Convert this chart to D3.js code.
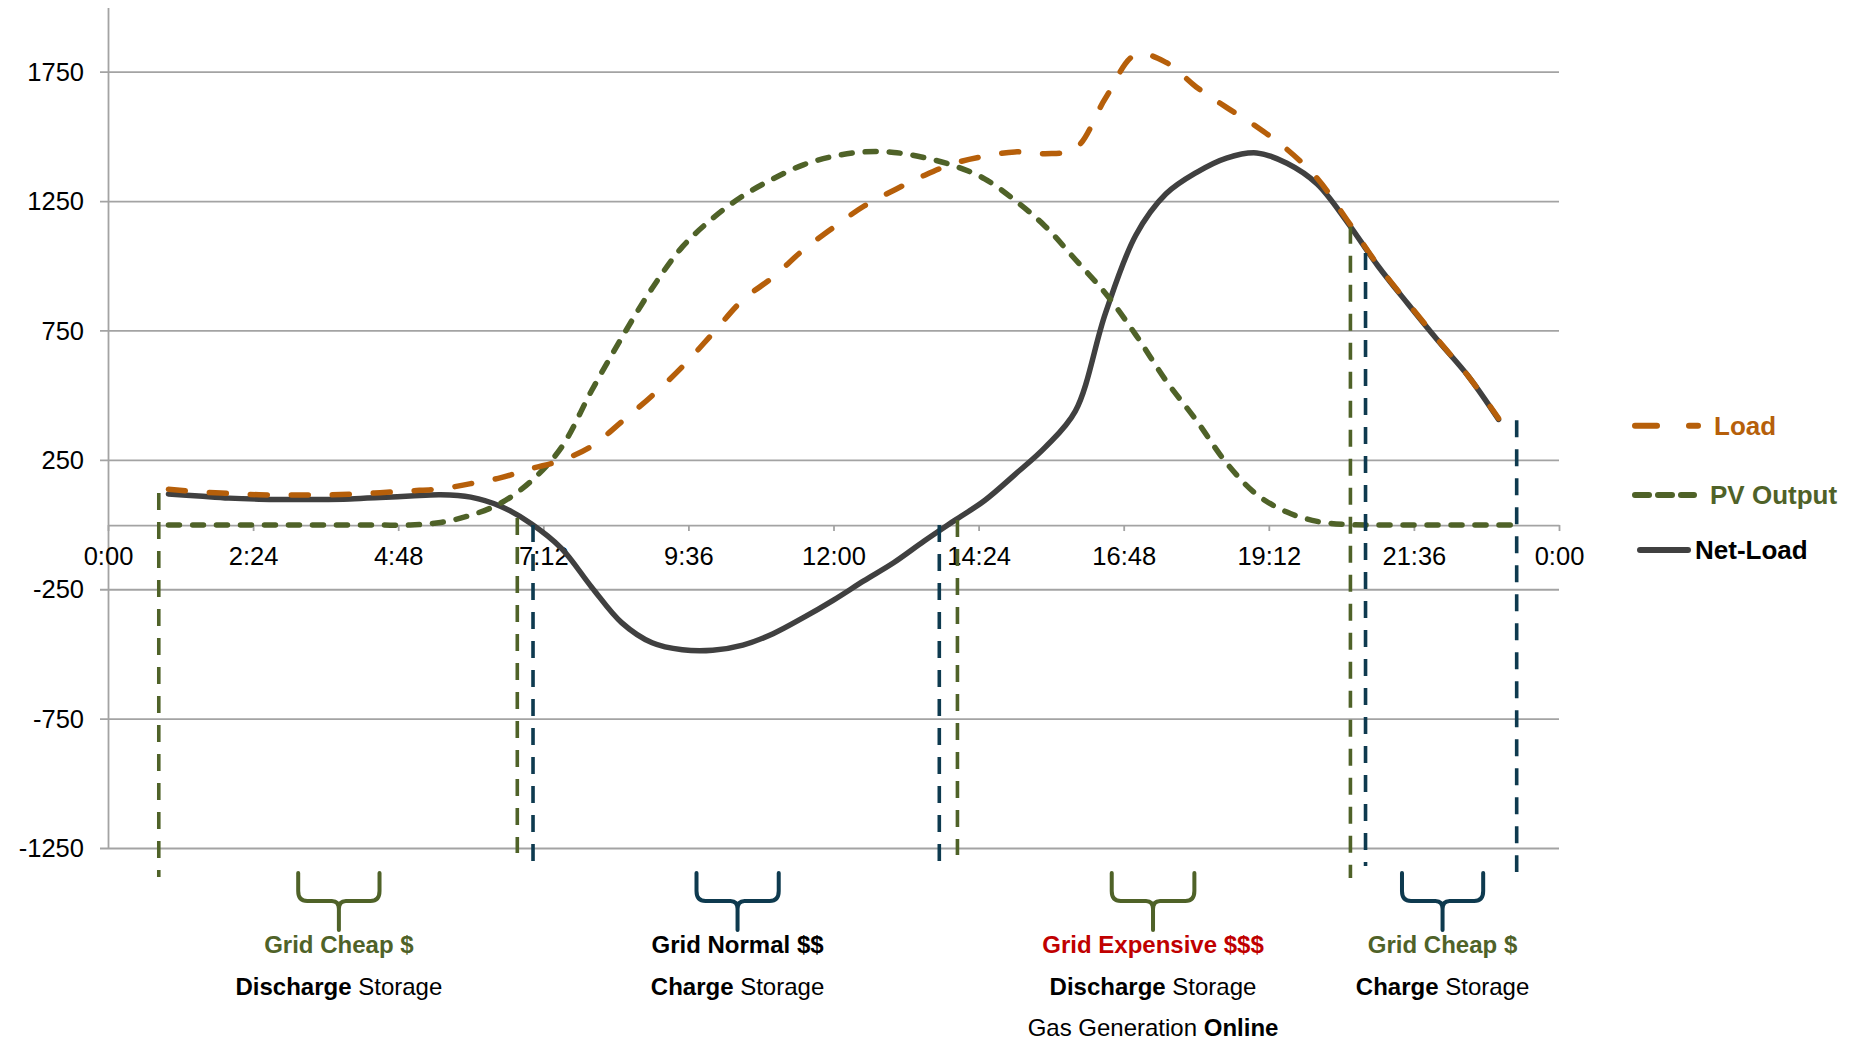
<!DOCTYPE html>
<html>
<head>
<meta charset="utf-8">
<script src="https://cdn.jsdelivr.net/npm/d3@7"></script>
<style>
  body { margin: 0; background: #ffffff; }
  svg { display: block; }
  text { font-family: "Liberation Sans", Arial, Helvetica, sans-serif; }
</style>
</head>
<body>
<svg id="chart" width="1851" height="1041"></svg>
<script>
// ---------------- DATA ----------------
const hours = [1,1.5,2,2.5,3,3.5,4,4.5,5,5.5,6,6.5,7,7.5,8,8.5,9,9.5,10,10.5,11,11.5,12,12.5,13,13.5,14,14.5,15,15.5,16,16.5,17,17.5,18,18.5,19,19.5,20,20.5,21,21.5,22,22.5,23];
const loadValues = [138,128,122,117,116,116,119,125,132,140,160,183,218,250,305,400,500,612,740,870,958,1063,1150,1232,1294,1351,1398,1425,1442,1435,1455,1650,1818,1788,1693,1614,1539,1452,1340,1177,1006,858,715,575,412];
const pvHours = [1,1.5,2,2.5,3,3.5,4,4.5,5,5.5,6,6.5,7,7.5,8,8.5,9,9.5,10,10.5,11,11.5,12,12.5,13,13.5,14,14.5,15,15.5,16,16.5,17,17.5,18,18.5,19,19.5,20,20.5,21,21.5,22,22.5,23,23.25];
const pvValues = [0,0,0,0,0,0,0,0,0,10,38,85,170,300,520,725,915,1075,1185,1272,1338,1392,1425,1442,1440,1420,1388,1338,1255,1155,1026,895,735,558,405,240,118,50,14,2,0,0,0,0,0,0];
const netValues = [120,112,104,100,99,99,101,106,112,117,108,72,5,-90,-240,-378,-455,-482,-484,-464,-420,-358,-290,-216,-145,-62,17,95,195,300,440,820,1120,1280,1362,1418,1438,1398,1318,1170,1003,855,712,575,408];

const xTickHours = [0,2.4,4.8,7.2,9.6,12,14.4,16.8,19.2,21.6,24];
const xTickLabels = ["0:00","2:24","4:48","7:12","9:36","12:00","14:24","16:48","19:12","21:36","0:00"];
const yTickValues = [-1250,-750,-250,250,750,1250,1750];
const seriesNames = ["Load","PV Output","Net-Load"];

// vertical period markers (hour, top value, bottom value, kind)
const markerHours   = [0.84, 6.77, 14.05, 20.55, 7.03, 13.75, 20.8, 23.3];
const markerTops    = [124, 27, 19, 1153, 0, 0, 1051, 405];
const markerBottoms = [-1360, -1267, -1275, -1364, -1302, -1333, -1318, -1341];
const markerKinds   = ["pv","pv","pv","pv","grid","grid","grid","grid"];

// period annotations below the chart
const periodLeftHours   = [3.146, 9.734, 16.602, 21.403];
const periodRightHours  = [4.491, 11.094, 17.969, 22.746];
const periodCenterHours = [3.819, 10.413, 17.285, 22.074];
const periodKinds  = ["pv","grid","pv","grid"];
const periodPrices = ["Grid Cheap $","Grid Normal $$","Grid Expensive $$$","Grid Cheap $"];
const periodPriceKinds = ["cheap","normal","expensive","cheap"];
const periodActionBold = ["Discharge","Charge","Discharge","Charge"];
const periodActionRest = [" Storage"," Storage"," Storage"," Storage"];
const periodExtraRegular = [null,null,"Gas Generation ",null];
const periodExtraBold    = [null,null,"Online",null];

// ---------------- STYLE ----------------
const C = {
  load: "#B65F0A",
  pv: "#4F6228",
  net: "#404040",
  grid: "#0E3A4F",
  gridline: "#A3A3A3",
  cheap: "#4F6228",
  normal: "#000000",
  expensive: "#C00000"
};

const svg = d3.select("#chart");
const x = d3.scaleLinear().domain([0, 24]).range([108, 1559]);
const y = d3.scaleLinear().domain([-1250, 2000]).range([848.5, 7.5]);

// gridlines
svg.append("g").selectAll("line").data(yTickValues).join("line")
  .attr("x1", 100).attr("x2", x(24))
  .attr("y1", d => y(d)).attr("y2", d => y(d))
  .attr("stroke", C.gridline).attr("stroke-width", 1.8);

// y axis
const yAxis = svg.append("g").attr("transform", `translate(${x(0)},0)`)
  .call(d3.axisLeft(y).tickValues(yTickValues).tickSize(0).tickSizeOuter(0).tickPadding(24).tickFormat(d => d));
yAxis.select(".domain").attr("stroke", C.gridline).attr("stroke-width", 1.8);
yAxis.selectAll("text").attr("font-size", 25.5).attr("fill", "#000");

// x axis at zero
const xAxis = svg.append("g").attr("transform", `translate(0,${y(0)})`)
  .call(d3.axisBottom(x).tickValues(xTickHours).tickSize(6).tickSizeOuter(0).tickPadding(16)
    .tickFormat((d, i) => xTickLabels[i]));
xAxis.select(".domain").attr("stroke", C.gridline).attr("stroke-width", 1.8);
xAxis.selectAll(".tick line").attr("stroke", C.gridline).attr("stroke-width", 1.8);
xAxis.selectAll("text").attr("font-size", 25.5).attr("fill", "#000");

// series
const line = d3.line().curve(d3.curveCatmullRom.alpha(0.5))
  .x(d => x(d[0])).y(d => y(d[1]));

svg.append("path").datum(hours.map((h, i) => [h, netValues[i]]))
  .attr("d", line).attr("fill", "none").attr("stroke", C.net)
  .attr("stroke-width", 5.5).attr("stroke-linecap", "round").attr("stroke-linejoin", "round");

svg.append("path").datum(pvHours.map((h, i) => [h, pvValues[i]]))
  .attr("d", line).attr("fill", "none").attr("stroke", C.pv)
  .attr("stroke-width", 5.5).attr("stroke-linecap", "round")
  .attr("stroke-dasharray", "11,13");

svg.append("path").datum(hours.map((h, i) => [h, loadValues[i]]))
  .attr("d", line).attr("fill", "none").attr("stroke", C.load)
  .attr("stroke-width", 5.5).attr("stroke-linecap", "round")
  .attr("stroke-dasharray", "17,24");

// vertical markers
svg.append("g").selectAll("line").data(markerHours).join("line")
  .attr("x1", d => x(d)).attr("x2", d => x(d))
  .attr("y1", (d, i) => y(markerTops[i])).attr("y2", (d, i) => y(markerBottoms[i]))
  .attr("stroke", (d, i) => C[markerKinds[i]])
  .attr("stroke-width", 3.6).attr("stroke-dasharray", "17,12");

// legend
const legendY = [425.7, 495, 550];
const legendX1 = [1632, 1632, 1637];
const legendX2 = [1701, 1697, 1691];
const legendTextX = [1714, 1710, 1695];
const legendColors = [C.load, C.pv, C.net];
const legendTextColors = [C.load, C.pv, "#000"];
const legendDash = ["22,32", "14,9", null];
const lg = svg.append("g");
seriesNames.forEach((name, i) => {
  const l = lg.append("line").attr("x1", legendX1[i] + 3).attr("x2", legendX2[i] - 3)
    .attr("y1", legendY[i]).attr("y2", legendY[i])
    .attr("stroke", legendColors[i]).attr("stroke-width", 6).attr("stroke-linecap", "round");
  if (legendDash[i]) l.attr("stroke-dasharray", legendDash[i]);
  lg.append("text").attr("x", legendTextX[i]).attr("y", legendY[i]).attr("dy", "0.35em")
    .attr("font-size", 26).attr("font-weight", "bold").attr("fill", legendTextColors[i]).text(name);
});

// braces + annotations
const braceTop = 873, braceMid = 901, braceBottom = 930;
const ann = svg.append("g");
periodCenterHours.forEach((ch, i) => {
  const L = x(periodLeftHours[i]), R = x(periodRightHours[i]), M = x(ch);
  const p = `M${L},${braceTop} L${L},${braceMid - 10} Q${L},${braceMid} ${L + 9},${braceMid} L${M - 7},${braceMid} Q${M},${braceMid} ${M},${braceMid + 8} L${M},${braceBottom}` +
            ` M${R},${braceTop} L${R},${braceMid - 10} Q${R},${braceMid} ${R - 9},${braceMid} L${M + 7},${braceMid} Q${M},${braceMid} ${M},${braceMid + 8}`;
  ann.append("path").attr("d", p).attr("fill", "none").attr("stroke", C[periodKinds[i]])
    .attr("stroke-width", 4).attr("stroke-linecap", "round").attr("stroke-linejoin", "round");

  ann.append("text").attr("x", M).attr("y", 945).attr("dy", "0.35em").attr("text-anchor", "middle")
    .attr("font-size", 24).attr("font-weight", "bold").attr("fill", C[periodPriceKinds[i]])
    .text(periodPrices[i]);

  const t2 = ann.append("text").attr("x", M).attr("y", 986.7).attr("dy", "0.35em").attr("text-anchor", "middle")
    .attr("font-size", 24).attr("fill", "#000");
  t2.append("tspan").attr("font-weight", "bold").text(periodActionBold[i]);
  t2.append("tspan").text(periodActionRest[i]);

  if (periodExtraRegular[i]) {
    const t3 = ann.append("text").attr("x", M).attr("y", 1028).attr("dy", "0.35em").attr("text-anchor", "middle")
      .attr("font-size", 24).attr("fill", "#000");
    t3.append("tspan").text(periodExtraRegular[i]);
    t3.append("tspan").attr("font-weight", "bold").text(periodExtraBold[i]);
  }
});
</script>
</body>
</html>
